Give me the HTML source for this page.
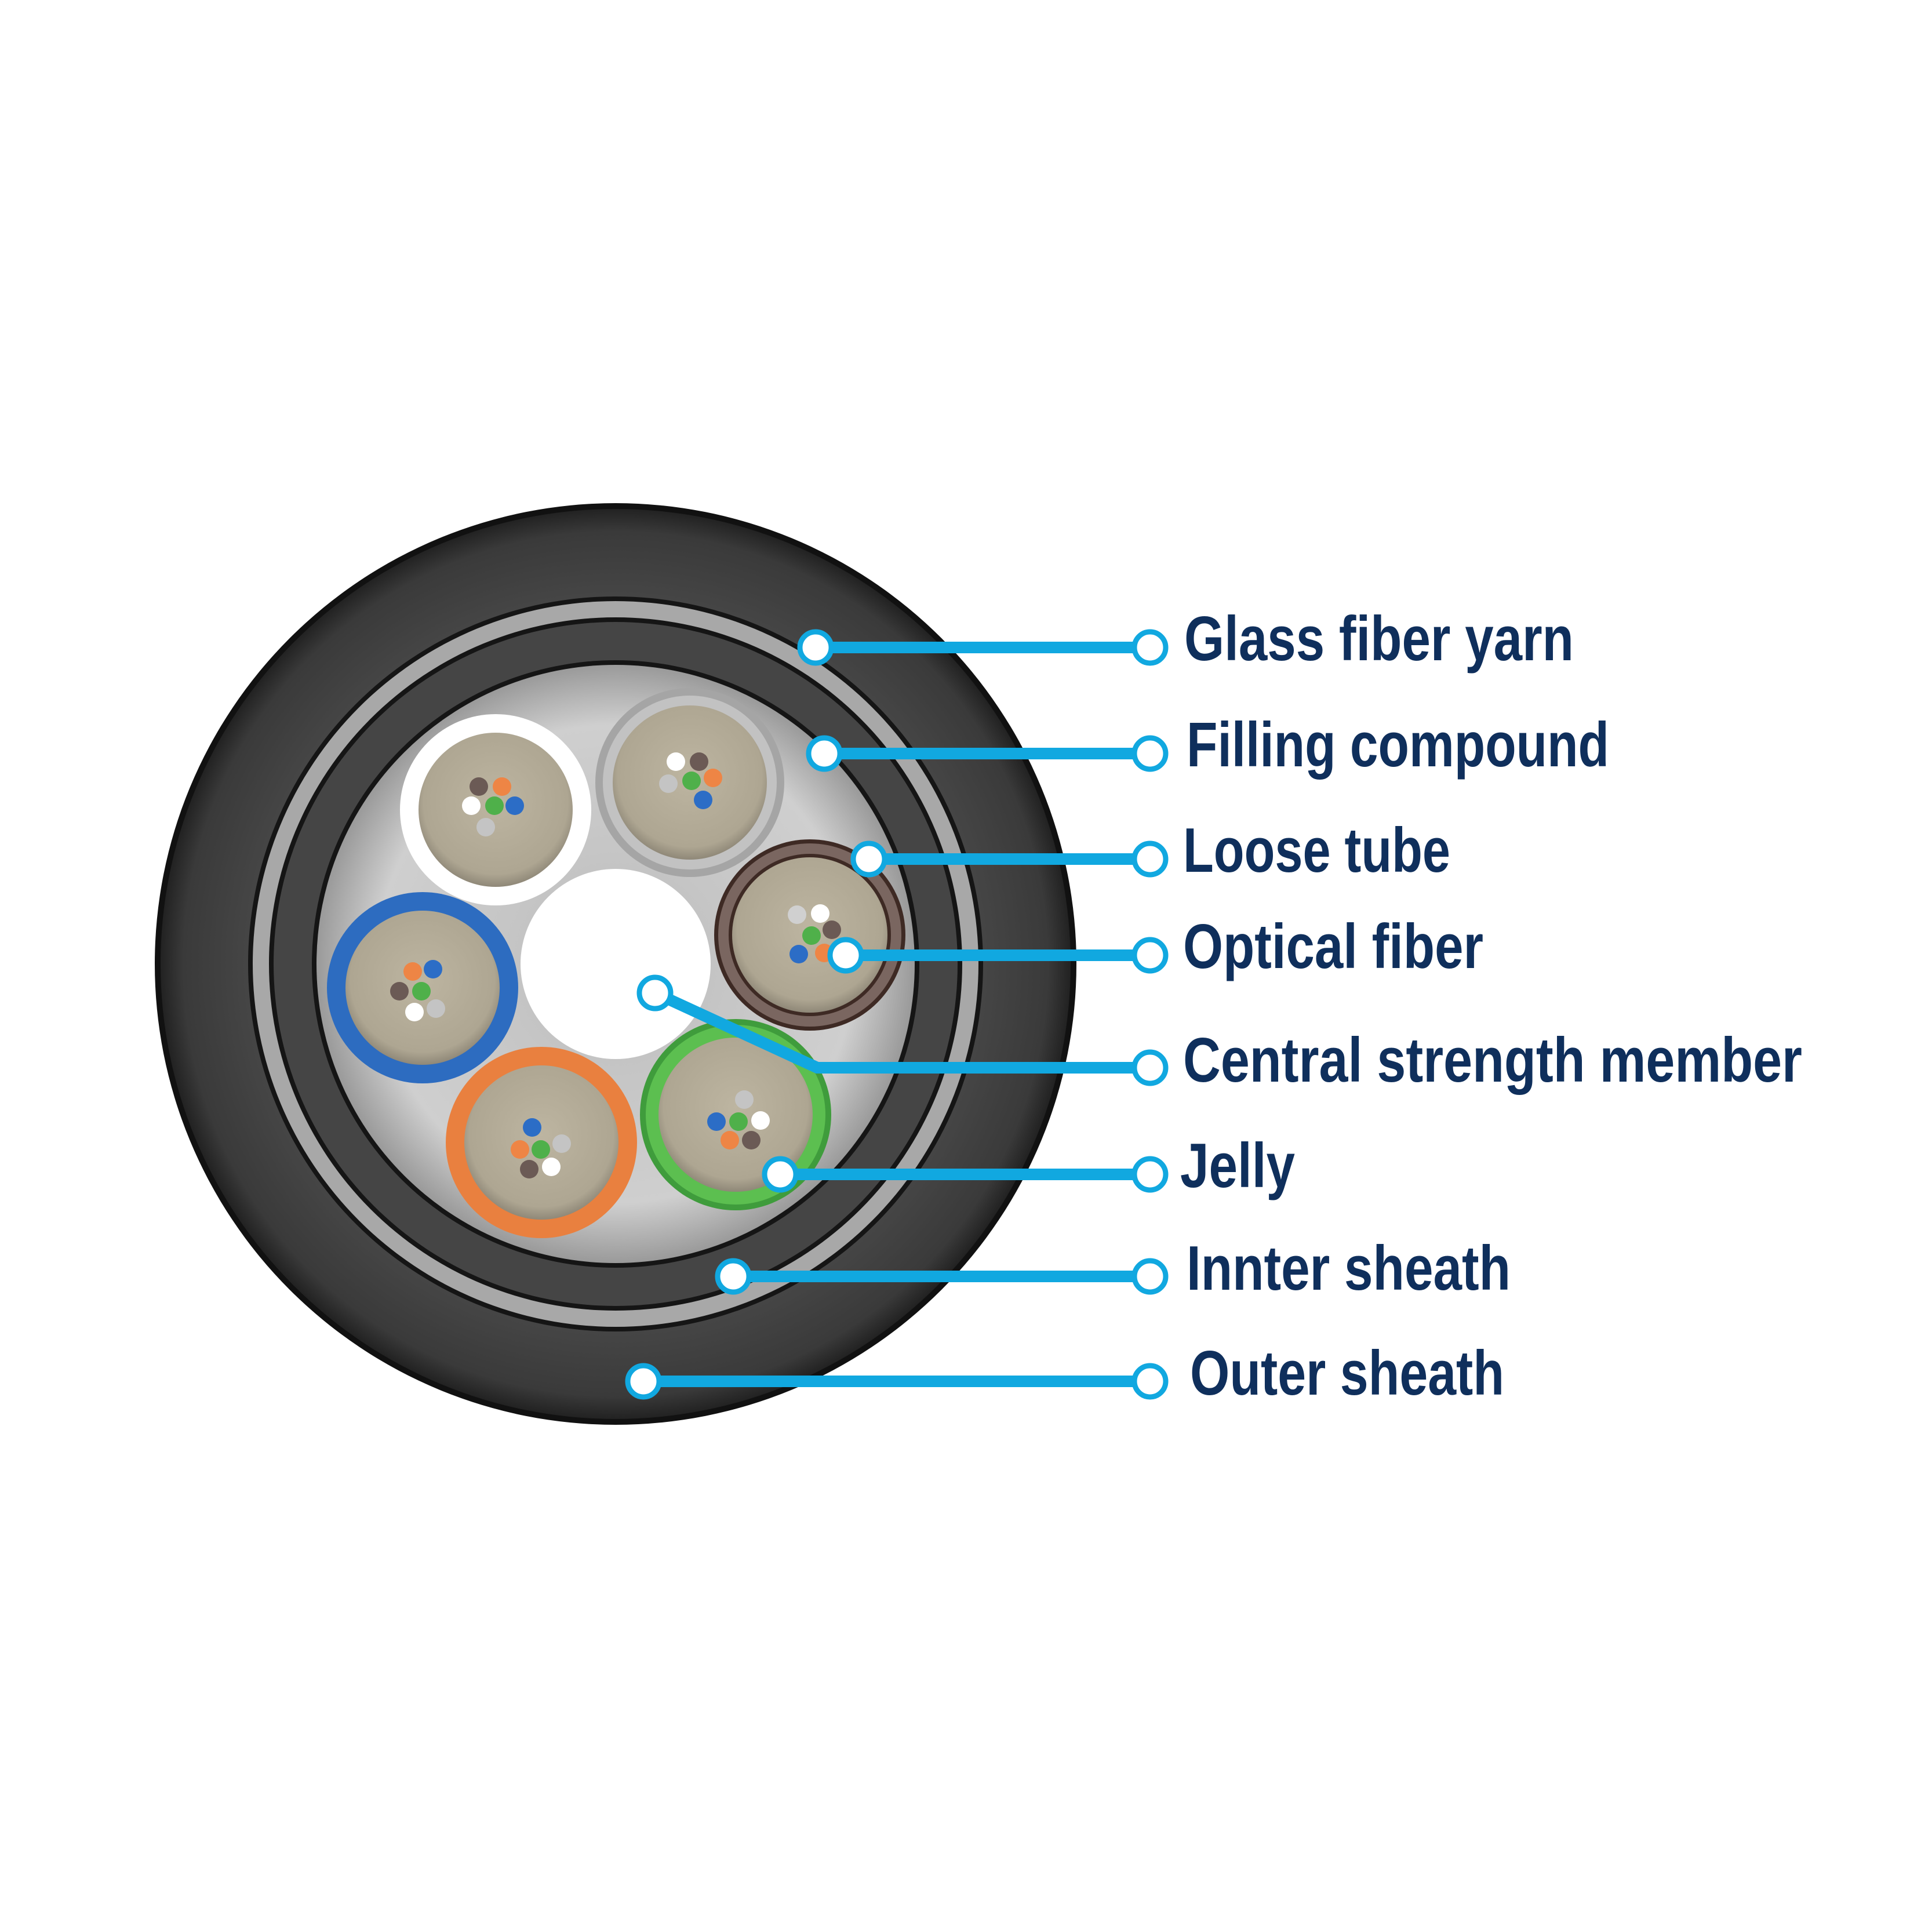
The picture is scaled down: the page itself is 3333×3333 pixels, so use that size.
<!DOCTYPE html>
<html><head><meta charset="utf-8"><style>html,body{margin:0;padding:0;background:#fff}svg{display:block}</style></head><body>
<svg width="3333" height="3333" viewBox="0 0 3333 3333" xmlns="http://www.w3.org/2000/svg">
<defs>
<radialGradient id="dark" cx="50%" cy="50%" r="50%"><stop offset="0.75" stop-color="#4a4a4a"/><stop offset="0.95" stop-color="#3a3a3a"/><stop offset="1" stop-color="#222"/></radialGradient>
<radialGradient id="fill" cx="50%" cy="50%" r="50%"><stop offset="0" stop-color="#bdbdbd"/><stop offset="0.8" stop-color="#cfcfcf"/><stop offset="1" stop-color="#9a9a9a"/></radialGradient>
<radialGradient id="beige" cx="50%" cy="45%" r="55%"><stop offset="0" stop-color="#bdb5a1"/><stop offset="0.85" stop-color="#aea692"/><stop offset="1" stop-color="#8f8878"/></radialGradient>
</defs>
<g transform="translate(1062,1663)">
<circle r="795" fill="#111"/>
<circle r="785" fill="url(#dark)"/>
<circle r="634" fill="#151515"/>
<circle r="626" fill="#a8a8a8"/>
<circle r="598" fill="#151515"/>
<circle r="590" fill="#454545"/>
<circle r="524" fill="#151515"/>
<circle r="516" fill="url(#fill)"/>
<circle r="164" fill="#fff"/>
</g>
<g id="tubes">
<!-- white -->
<circle cx="855" cy="1397" r="165" fill="#fff"/><circle cx="855" cy="1397" r="133" fill="url(#beige)"/>
<!-- gray -->
<circle cx="1190" cy="1350" r="163" fill="#a5a5a5"/><circle cx="1190" cy="1350" r="150" fill="#c2c2c2"/><circle cx="1190" cy="1350" r="133" fill="url(#beige)"/>
<!-- brown -->
<circle cx="1397" cy="1613" r="165" fill="#3e2a24"/><circle cx="1397" cy="1613" r="158" fill="#7a6660"/><circle cx="1397" cy="1613" r="140" fill="#3e2a24"/><circle cx="1397" cy="1613" r="134" fill="url(#beige)"/>
<!-- blue -->
<circle cx="729" cy="1704" r="165" fill="#2d6cc0"/><circle cx="729" cy="1704" r="133" fill="url(#beige)"/>
<!-- orange -->
<circle cx="934" cy="1971" r="165" fill="#e9803f"/><circle cx="934" cy="1971" r="133" fill="url(#beige)"/>
<!-- green -->
<circle cx="1269" cy="1923" r="165" fill="#3f9c3c"/><circle cx="1269" cy="1923" r="155" fill="#5cbf50"/><circle cx="1269" cy="1923" r="133" fill="url(#beige)"/>
</g>
<g id="fibers">
<!-- white tube -->
<g transform="translate(853,1390)"><circle r="16" fill="#4fb04a"/><circle cx="-27" cy="-33" r="16" fill="#6b5a55"/><circle cx="13" cy="-33" r="16" fill="#ee8545"/><circle cx="35" cy="0" r="16" fill="#2c6dc6"/><circle cx="-40" cy="0" r="16" fill="#fff"/><circle cx="-15" cy="37" r="16" fill="#c4c4c4"/></g>
<!-- gray tube -->
<g transform="translate(1193,1347)"><circle r="16" fill="#4fb04a"/><circle cx="-27" cy="-33" r="16" fill="#fff"/><circle cx="13" cy="-33" r="16" fill="#6b5a55"/><circle cx="37" cy="-5" r="16" fill="#ee8545"/><circle cx="-40" cy="5" r="16" fill="#c4c4c4"/><circle cx="20" cy="33" r="16" fill="#2c6dc6"/></g>
<!-- brown tube -->
<g transform="translate(1400,1614)"><circle r="16" fill="#4fb04a"/><circle cx="-25" cy="-36" r="16" fill="#d0d0d0"/><circle cx="15" cy="-38" r="16" fill="#fff"/><circle cx="35" cy="-10" r="16" fill="#6b5a55"/><circle cx="-22" cy="32" r="16" fill="#2c6dc6"/><circle cx="22" cy="30" r="16" fill="#ee8545"/></g>
<!-- blue tube -->
<g transform="translate(727,1710)"><circle r="16" fill="#4fb04a"/><circle cx="-15" cy="-34" r="16" fill="#ee8545"/><circle cx="20" cy="-38" r="16" fill="#2c6dc6"/><circle cx="-38" cy="0" r="16" fill="#6b5a55"/><circle cx="-12" cy="36" r="16" fill="#fff"/><circle cx="25" cy="30" r="16" fill="#c4c4c4"/></g>
<!-- orange tube -->
<g transform="translate(933,1983)"><circle r="16" fill="#4fb04a"/><circle cx="-15" cy="-38" r="16" fill="#2c6dc6"/><circle cx="-36" cy="0" r="16" fill="#ee8545"/><circle cx="36" cy="-10" r="16" fill="#c4c4c4"/><circle cx="-20" cy="34" r="16" fill="#6b5a55"/><circle cx="18" cy="30" r="16" fill="#fff"/></g>
<!-- green tube -->
<g transform="translate(1274,1935)"><circle r="16" fill="#4fb04a"/><circle cx="10" cy="-38" r="16" fill="#c4c4c4"/><circle cx="-38" cy="0" r="16" fill="#2c6dc6"/><circle cx="38" cy="-2" r="16" fill="#fff"/><circle cx="-15" cy="32" r="16" fill="#ee8545"/><circle cx="22" cy="32" r="16" fill="#6b5a55"/></g>
</g>
<g stroke="#11a8e0" stroke-width="20" fill="none">
<line x1="1407" y1="1117" x2="1960" y2="1117"/>
<line x1="1422" y1="1300" x2="1960" y2="1300"/>
<line x1="1499" y1="1482" x2="1960" y2="1482"/>
<line x1="1459" y1="1648" x2="1960" y2="1648"/>
<polyline points="1130,1713 1410,1842 1960,1842"/>
<line x1="1346" y1="2026" x2="1960" y2="2026"/>
<line x1="1265" y1="2202" x2="1960" y2="2202"/>
<line x1="1110" y1="2383" x2="1960" y2="2383"/>
</g>
<g fill="#fff" stroke="#11a8e0" stroke-width="9">
<circle cx="1407" cy="1117" r="27"/><circle cx="1422" cy="1300" r="27"/><circle cx="1499" cy="1482" r="27"/><circle cx="1459" cy="1648" r="27"/><circle cx="1130" cy="1713" r="27"/><circle cx="1346" cy="2026" r="27"/><circle cx="1265" cy="2202" r="27"/><circle cx="1110" cy="2383" r="27"/>
<circle cx="1984" cy="1117" r="27"/><circle cx="1984" cy="1300" r="27"/><circle cx="1984" cy="1482" r="27"/><circle cx="1984" cy="1648" r="27"/><circle cx="1984" cy="1842" r="27"/><circle cx="1984" cy="2026" r="27"/><circle cx="1984" cy="2202" r="27"/><circle cx="1984" cy="2383" r="27"/>
</g>
<g font-family="'Liberation Sans Narrow','Liberation Sans',sans-serif" font-weight="bold" font-size="109" fill="#0f2f5c" lengthAdjust="spacingAndGlyphs">
<text x="2043" y="1139" textLength="672" lengthAdjust="spacingAndGlyphs">Glass fiber yarn</text>
<text x="2047" y="1322" textLength="729" lengthAdjust="spacingAndGlyphs">Filling compound</text>
<text x="2041" y="1504" textLength="461" lengthAdjust="spacingAndGlyphs">Loose tube</text>
<text x="2041" y="1670" textLength="518" lengthAdjust="spacingAndGlyphs">Optical fiber</text>
<text x="2041" y="1866" textLength="1068" lengthAdjust="spacingAndGlyphs">Central strength member</text>
<text x="2036" y="2048" textLength="198" lengthAdjust="spacingAndGlyphs">Jelly</text>
<text x="2047" y="2225" textLength="559" lengthAdjust="spacingAndGlyphs">Innter sheath</text>
<text x="2053" y="2406" textLength="542" lengthAdjust="spacingAndGlyphs">Outer sheath</text>
</g>
</svg>
</body></html>
